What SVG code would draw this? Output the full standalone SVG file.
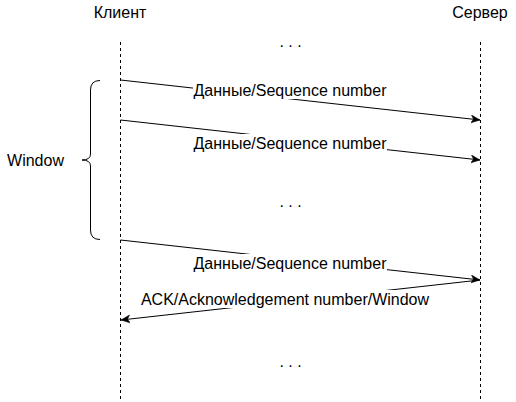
<svg xmlns="http://www.w3.org/2000/svg" width="516" height="402" viewBox="0 0 516 402">
<style>
text{font-family:"Liberation Sans",Arial,sans-serif;font-size:16px;fill:#000;text-anchor:middle}
.life{stroke:#000;stroke-width:1;stroke-dasharray:3 3;fill:none}
.msg{stroke:#000;stroke-width:1;fill:none;marker-end:url(#arr)}
.bg{fill:#fff}
</style>
<defs>
<marker id="arr" viewBox="0 0 10 10" refX="9" refY="5" markerWidth="10" markerHeight="10" markerUnits="userSpaceOnUse" orient="auto">
<path d="M0,1 L9,5 L0,9 L2.5,5 Z" fill="#000" stroke="#000" stroke-width="0.5"/>
</marker>
</defs>
<g id="client">
<text x="120" y="17.5">Клиент</text>
<line class="life" x1="120.5" y1="42" x2="120.5" y2="402"/>
</g>
<g id="server">
<text x="480" y="17.5">Сервер</text>
<line class="life" x1="480.5" y1="42" x2="480.5" y2="402"/>
</g>
<g id="window">
<path d="M100,80.5 Q90.5,80.5 90.5,90 L90.5,154 Q90.5,160 82,160 Q90.5,160 90.5,166 L90.5,230 Q90.5,239.5 100,239.5" fill="none" stroke="#000"/>
<text x="35.5" y="165.5">Window</text>
</g>
<g id="dots">
<text x="290.5" y="47">. . .</text>
<text x="290.5" y="207">. . .</text>
<text x="290.5" y="367">. . .</text>
</g>
<g id="connectors">
<line class="msg" x1="120.5" y1="80" x2="480" y2="120"/>
<line class="msg" x1="120.5" y1="120" x2="480" y2="160"/>
<line class="msg" x1="120.5" y1="240" x2="480" y2="280"/>
<line class="msg" x1="480" y1="280" x2="121" y2="320"/>
<g id="labels">
<rect class="bg" x="193" y="81" width="194" height="18"/>
<text x="290" y="95.5">Данные/Sequence number</text>
<rect class="bg" x="193" y="134" width="194" height="18"/>
<text x="290" y="148.5">Данные/Sequence number</text>
<rect class="bg" x="193" y="254" width="194" height="18"/>
<text x="290" y="268.5">Данные/Sequence number</text>
<rect class="bg" x="141" y="290" width="288" height="18"/>
<text x="285" y="304.5">ACK/Acknowledgement number/Window</text>
</g>
</g>
</svg>
